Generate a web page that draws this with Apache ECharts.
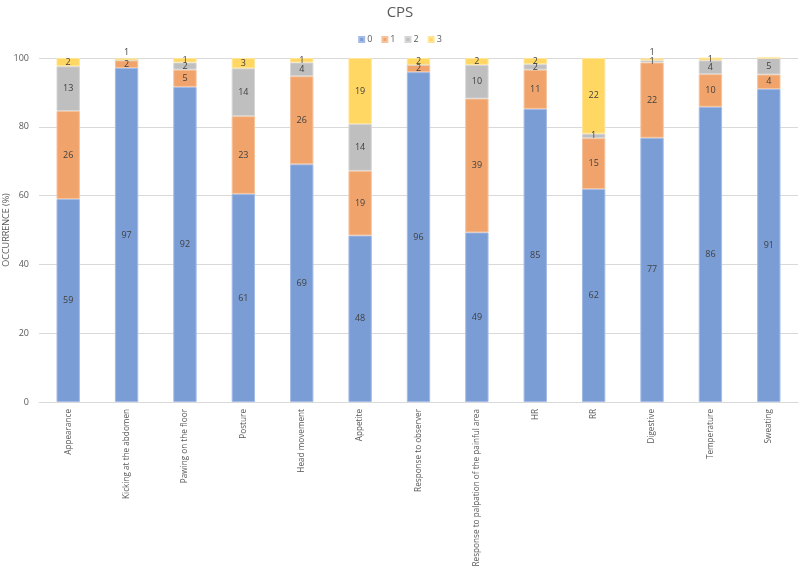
<!DOCTYPE html>
<html>
<head>
<meta charset="utf-8">
<script src="https://cdn.jsdelivr.net/npm/echarts@6/dist/echarts.min.js"></script>
<style>html,body{margin:0;padding:0;background:#fff}#c{width:800px;height:569px}</style>
</head>
<body>
<div id="c"></div>
<script>
const categories = ["Appearance","Kicking at the abdomen","Pawing on the floor","Posture","Head movement","Appetite","Response to observer","Response to palpation of the painful area","HR","RR","Digestive","Temperature","Sweating"];
const seriesNames = ["0","1","2","3"];
const score0 = [59.0, 97.1, 91.6, 60.5, 69.1, 48.4, 95.9, 49.3, 85.2, 61.9, 76.8, 85.8, 91.0];
const score1 = [25.6, 2.2, 5.0, 22.6, 25.6, 18.8, 2.1, 38.9, 11.4, 14.8, 21.9, 9.5, 4.2];
const score2 = [13.0, 0, 2.1, 13.9, 4.0, 13.6, 0, 9.8, 1.6, 1.3, 0.6, 4.0, 4.8];
const score3 = [2.4, 0.6, 1.3, 3.0, 1.3, 19.2, 2.0, 2.0, 1.8, 22.0, 0.6, 0.8, 0];
const yTicks = [0, 20, 40, 60, 80, 100];

const colors = ["#7b9dd6", "#f0a46c", "#bfbfbf", "#ffd762"];
const borders = ["#a3bbe6", "#f6c39c", "#d6d6d6", "#ffe59a"];
const allData = [score0, score1, score2, score3];

const chart = echarts.init(document.getElementById('c'), null, {renderer: 'canvas'});
chart.setOption({
  animation: false,
  title: {text: 'CPS', left: 'center', top: 0, textStyle: {fontFamily: 'Open Sans', fontWeight: 'normal', fontSize: 15, color: '#595959'}},
  legend: {data: seriesNames, top: 30, left: 'center', itemWidth: 5, itemHeight: 5, itemGap: 9,
    textStyle: {fontFamily: 'Open Sans', fontSize: 9, color: '#595959', padding: [0,0,0,-2]}, icon: 'rect'},
  grid: {left: 39, right: 2, top: 58, bottom: 167, containLabel: false, outerBoundsMode: 'none'},
  xAxis: {type: 'category', data: categories,
    axisLine: {lineStyle: {color: '#d9d9d9'}}, axisTick: {show: false},
    axisLabel: {rotate: 90, interval: 0, fontFamily: 'Open Sans', fontSize: 8.2, color: '#595959', margin: 7}},
  yAxis: {type: 'value', min: 0, max: 100, interval: 20, name: 'OCCURRENCE (%)', nameLocation: 'middle', nameGap: 28,
    nameMoveOverlap: false,
    nameTextStyle: {fontFamily: 'Open Sans', fontSize: 9, color: '#595959'},
    axisLabel: {fontFamily: 'Open Sans', fontSize: 9, color: '#595959', margin: 10,
      formatter: v => yTicks.includes(v) ? String(v) : ''},
    splitLine: {lineStyle: {color: '#d9d9d9'}}, axisLine: {show: false}, axisTick: {show: false}},
  series: allData.map((arr, si) => ({
    name: seriesNames[si], type: 'bar', stack: 'total', barWidth: '40%',
    itemStyle: {color: colors[si], borderColor: borders[si], borderWidth: 1},
    data: arr.map(v => {
      const d = {value: v};
      if (v === 0) d.label = {show: false};
      else if (si === 3 && v < 0.7) d.label = {position: 'top', distance: 1};
      return d;
    }),
    label: {show: true, position: 'inside', fontFamily: 'Open Sans', fontSize: 9, color: '#404040',
      formatter: p => String(Math.round(p.value))}
  }))
});
</script>
</body>
</html>
